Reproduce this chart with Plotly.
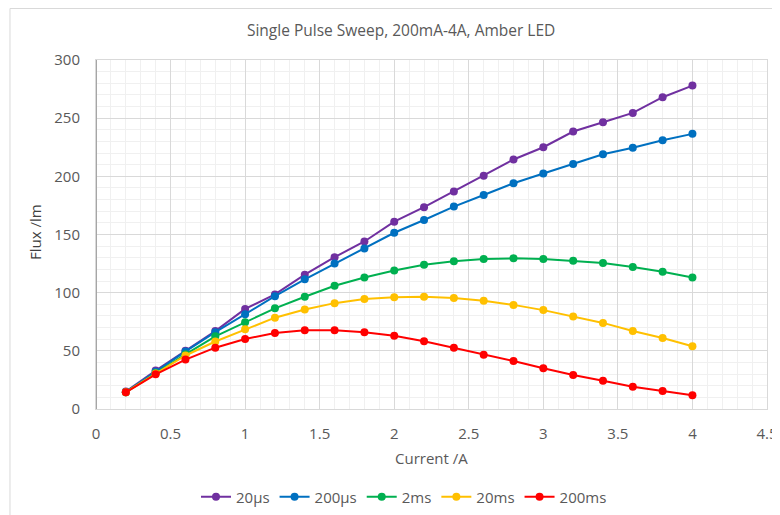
import plotly.graph_objects as go

current = [0.2, 0.4, 0.6, 0.8, 1.0, 1.2, 1.4, 1.6, 1.8, 2.0,
           2.2, 2.4, 2.6, 2.8, 3.0, 3.2, 3.4, 3.6, 3.8, 4.0]

flux_20us = [15, 33, 50, 67, 86, 98.5, 115.5, 130.5, 144, 161,
             173.5, 187, 200.5, 214.5, 225, 238.5, 246.5, 254.5, 268, 278]
flux_200us = [14.5, 32, 49.5, 66, 81.5, 97, 111.5, 125, 138, 151.5,
              162.5, 174, 184, 194, 202.5, 210.5, 219, 224.5, 231, 236.5]
flux_2ms = [14.5, 31, 47, 62.5, 74.5, 86.5, 96.5, 106, 113, 119,
            124, 127, 129, 129.5, 129, 127.5, 125.5, 122, 118, 113]
flux_20ms = [14.5, 30.5, 46, 58, 68.5, 78.5, 85.5, 91, 94.5, 96,
             96.5, 95.5, 93, 89.5, 85, 79.5, 74, 67, 61, 54]
flux_200ms = [14.3, 29.8, 42.5, 52.7, 60.2, 65.3, 67.6, 67.6, 66, 63,
              58.2, 52.7, 46.7, 41.3, 35, 29.2, 24.3, 19.2, 15.5, 11.8]

series_names = ["20µs", "200µs", "2ms", "20ms", "200ms"]
series_values = [flux_20us, flux_200us, flux_2ms, flux_20ms, flux_200ms]
series_colors = ["#7030A0", "#0070C0", "#00B050", "#FFC000", "#FF0000"]

x_ticks = [0, 0.5, 1, 1.5, 2, 2.5, 3, 3.5, 4, 4.5]
x_tick_labels = ["0", "0.5", "1", "1.5", "2", "2.5", "3", "3.5", "4", "4.5"]
y_ticks = [0, 50, 100, 150, 200, 250, 300]

FONT = "Open Sans"
TXT = "#595959"

fig = go.Figure()
for name, vals, col in zip(series_names, series_values, series_colors):
    fig.add_trace(go.Scatter(
        x=current, y=vals, name=name, mode="lines+markers",
        line=dict(color=col, width=2),
        marker=dict(color=col, size=8),
    ))

fig.update_layout(
    width=780, height=515,
    margin=dict(l=88, r=21, t=52, b=114, autoexpand=False),
    paper_bgcolor="white", plot_bgcolor="white",
    font=dict(family=FONT, color=TXT, size=15),
    title=dict(text="Single Pulse Sweep, 200mA-4A, Amber LED",
               x=0.504, xanchor="center", y=0.957, yanchor="middle",
               font=dict(family=FONT, size=15.5, color=TXT)),
    showlegend=True,
    legend=dict(orientation="h", x=0.459, xanchor="center",
                yref="container", y=0.0505, yanchor="middle",
                font=dict(family=FONT, size=15, color=TXT),
                itemwidth=30, tracegroupgap=0),
    xaxis=dict(range=[0, 4.5], tickvals=x_ticks, ticktext=x_tick_labels,
               showgrid=True, gridcolor="#D9D9D9", gridwidth=1,
               minor=dict(dtick=0.1, showgrid=True, gridcolor="#F0F0F0", gridwidth=1),
               zeroline=False, showline=True, linecolor="#D9D9D9", linewidth=1, mirror=True,
               ticks="", tickfont=dict(size=15, color=TXT), ticklabelstandoff=11,
               automargin=False),
    yaxis=dict(range=[0, 300], tickvals=y_ticks,
               showgrid=True, gridcolor="#D9D9D9", gridwidth=1,
               minor=dict(dtick=10, showgrid=True, gridcolor="#F0F0F0", gridwidth=1),
               zeroline=False, showline=True, linecolor="#D9D9D9", linewidth=1, mirror=True,
               ticks="", tickfont=dict(size=15, color=TXT), ticklabelstandoff=12,
               automargin=False),
    annotations=[
        dict(text="Current /A", xref="paper", yref="paper", x=0.5007, y=-0.140,
             xanchor="center", yanchor="middle", showarrow=False,
             font=dict(family=FONT, size=15, color=TXT)),
        dict(text="Flux /lm", xref="paper", yref="paper", x=-0.0909, y=0.507,
             xanchor="center", yanchor="middle", showarrow=False, textangle=-90,
             font=dict(family=FONT, size=15, color="#404040")),
    ],
    shapes=[
        dict(type="line", xref="x", yref="paper", x0=0, x1=0, y0=0, y1=1,
             line=dict(color="#A6A6A6", width=2)),
        dict(type="line", xref="paper", yref="paper", x0=-0.1282, x1=1.1, y0=1.1476, y1=1.1476,
             line=dict(color="#D9D9D9", width=1), layer="below"),
        dict(type="line", xref="paper", yref="paper", x0=-0.1282, x1=-0.1282, y0=-0.35, y1=1.1476,
             line=dict(color="#D9D9D9", width=1), layer="below"),
    ],
)

fig.write_html("out.html")
